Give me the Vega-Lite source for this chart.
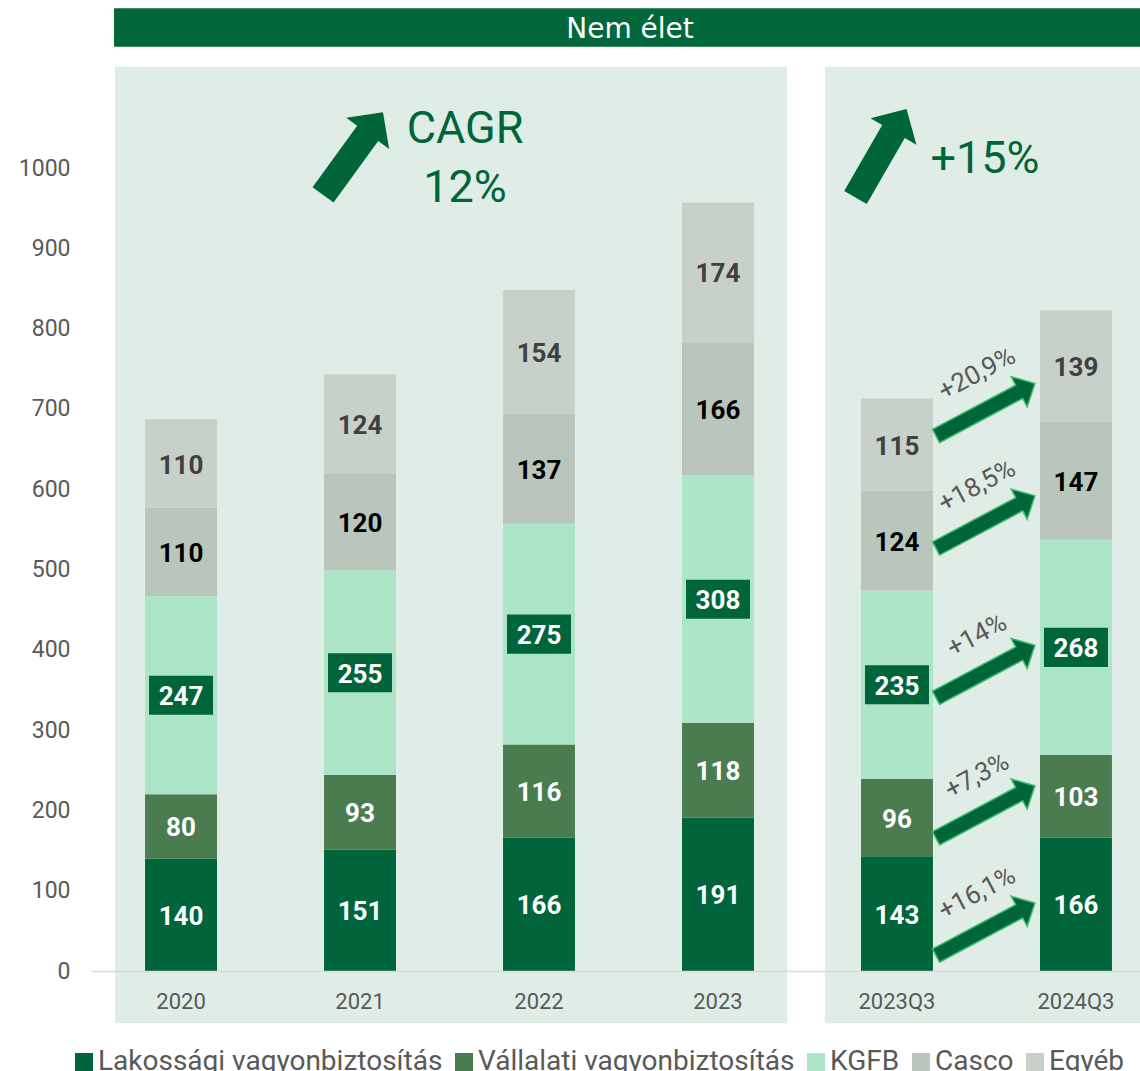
{
  "$schema": "https://vega.github.io/schema/vega-lite/v6.json",
  "width": 1049,
  "height": 803,
  "autosize": {"type": "none"},
  "padding": {"left": 91, "top": 168, "right": 0, "bottom": 100},
  "background": "#ffffff",
  "config": {"view": {"stroke": null}, "font": "Roboto"},
  "datasets": {
    "premium": [
      {"period": "2020", "category": "Lakossági vagyonbiztosítás", "value": 140},
      {"period": "2020", "category": "Vállalati vagyonbiztosítás", "value": 80},
      {"period": "2020", "category": "KGFB", "value": 247},
      {"period": "2020", "category": "Casco", "value": 110},
      {"period": "2020", "category": "Egyéb", "value": 110},
      {"period": "2021", "category": "Lakossági vagyonbiztosítás", "value": 151},
      {"period": "2021", "category": "Vállalati vagyonbiztosítás", "value": 93},
      {"period": "2021", "category": "KGFB", "value": 255},
      {"period": "2021", "category": "Casco", "value": 120},
      {"period": "2021", "category": "Egyéb", "value": 124},
      {"period": "2022", "category": "Lakossági vagyonbiztosítás", "value": 166},
      {"period": "2022", "category": "Vállalati vagyonbiztosítás", "value": 116},
      {"period": "2022", "category": "KGFB", "value": 275},
      {"period": "2022", "category": "Casco", "value": 137},
      {"period": "2022", "category": "Egyéb", "value": 154},
      {"period": "2023", "category": "Lakossági vagyonbiztosítás", "value": 191},
      {"period": "2023", "category": "Vállalati vagyonbiztosítás", "value": 118},
      {"period": "2023", "category": "KGFB", "value": 308},
      {"period": "2023", "category": "Casco", "value": 166},
      {"period": "2023", "category": "Egyéb", "value": 174},
      {"period": "2023Q3", "category": "Lakossági vagyonbiztosítás", "value": 143},
      {"period": "2023Q3", "category": "Vállalati vagyonbiztosítás", "value": 96},
      {"period": "2023Q3", "category": "KGFB", "value": 235},
      {"period": "2023Q3", "category": "Casco", "value": 124},
      {"period": "2023Q3", "category": "Egyéb", "value": 115},
      {"period": "2024Q3", "category": "Lakossági vagyonbiztosítás", "value": 166},
      {"period": "2024Q3", "category": "Vállalati vagyonbiztosítás", "value": 103},
      {"period": "2024Q3", "category": "KGFB", "value": 268},
      {"period": "2024Q3", "category": "Casco", "value": 147},
      {"period": "2024Q3", "category": "Egyéb", "value": 139}
    ],
    "growth": [
      {"period": "2023Q3", "pct": "+16,1%", "v": 52},
      {"period": "2023Q3", "pct": "+7,3%", "v": 198},
      {"period": "2023Q3", "pct": "+14%", "v": 373},
      {"period": "2023Q3", "pct": "+18,5%", "v": 559},
      {"period": "2023Q3", "pct": "+20,9%", "v": 699}
    ]
  },
  "layer": [
    {
      "data": {"values": [{}]},
      "mark": {"type": "rect", "fill": "#e0ede6", "xOffset": -66, "x2Offset": 69},
      "encoding": {
        "x": {"datum": "2020", "type": "nominal", "bandPosition": 0.5},
        "x2": {"datum": "2023", "bandPosition": 0.5},
        "y": {"datum": 1126, "type": "quantitative"},
        "y2": {"datum": -65}
      }
    },
    {
      "data": {"values": [{}]},
      "mark": {"type": "rect", "fill": "#e0ede6", "xOffset": -72, "x2Offset": 80},
      "encoding": {
        "x": {"datum": "2023Q3", "type": "nominal", "bandPosition": 0.5},
        "x2": {"datum": "2024Q3", "bandPosition": 0.5},
        "y": {"datum": 1126, "type": "quantitative"},
        "y2": {"datum": -65}
      }
    },
    {
      "data": {"values": [{}]},
      "mark": {"type": "rect", "fill": "#02673a", "xOffset": -67, "x2Offset": 80},
      "encoding": {
        "x": {"datum": "2020", "type": "nominal", "bandPosition": 0.5},
        "x2": {"datum": "2024Q3", "bandPosition": 0.5},
        "y": {"datum": 1199, "type": "quantitative"},
        "y2": {"datum": 1151}
      }
    },
    {
      "data": {"values": [{}]},
      "mark": {"type": "text", "text": "Nem élet", "font": "DejaVu Sans", "fontSize": 28, "color": "#ffffff", "align": "center", "baseline": "middle", "xOffset": 91},
      "encoding": {
        "x": {"datum": "2022", "type": "nominal"},
        "y": {"datum": 1171.5, "type": "quantitative"}
      }
    },
    {
      "data": {"name": "premium"},
      "transform": [{"calculate": "indexof(['Lakossági vagyonbiztosítás','Vállalati vagyonbiztosítás','KGFB','Casco','Egyéb'], datum.category)", "as": "stackOrder"}],
      "mark": {"type": "bar"},
      "encoding": {
        "x": {
          "field": "period", "type": "nominal",
          "scale": {"type": "band", "domain": ["2020", "2021", "2022", "2023", "2023Q3", "2024Q3"], "range": [0, 1075], "paddingInner": 0.598, "paddingOuter": 0.302},
          "axis": {"title": null, "domain": true, "domainColor": "#d9d9d9", "domainWidth": 1.5, "ticks": false, "labelPadding": 20, "labelFont": "Roboto", "labelFontSize": 22, "labelColor": "#595959", "labelAngle": 0, "labelAlign": "center", "labelBaseline": "top", "labelFlush": false, "zindex": 1}
        },
        "y": {
          "field": "value", "type": "quantitative", "stack": "zero",
          "scale": {"domain": [0, 1000], "nice": false, "zero": true},
          "axis": {"title": null, "values": [0, 100, 200, 300, 400, 500, 600, 700, 800, 900, 1000], "format": "d", "domain": false, "ticks": false, "grid": false, "labelPadding": 21, "labelFont": "Roboto", "labelFontSize": 23, "labelColor": "#595959"}
        },
        "color": {
          "field": "category", "type": "nominal",
          "scale": {"domain": ["Lakossági vagyonbiztosítás", "Vállalati vagyonbiztosítás", "KGFB", "Casco", "Egyéb"], "range": ["#00653a", "#4b7c50", "#ade5c9", "#bac5bb", "#c8d1c9"]},
          "legend": {"title": null, "orient": "none", "legendX": -21, "legendY": 880, "direction": "horizontal", "columns": 5, "symbolType": "square", "symbolSize": 324, "symbolStrokeWidth": 0, "labelFont": "Roboto", "labelFontSize": 28, "labelColor": "#595959", "labelOffset": 0, "columnPadding": 7, "labelLimit": 0, "padding": 0}
        },
        "order": {"field": "stackOrder", "type": "quantitative", "sort": "ascending"}
      }
    },
    {
      "data": {"name": "premium"},
      "transform": [{"calculate": "indexof(['Lakossági vagyonbiztosítás','Vállalati vagyonbiztosítás','KGFB','Casco','Egyéb'], datum.category)", "as": "stackOrder"}],
      "mark": {"type": "point", "shape": "M -1 -0.61 L 1 -0.61 L 1 0.61 L -1 0.61 Z", "size": 4096, "filled": true, "opacity": 1, "strokeWidth": 0},
      "encoding": {
        "x": {"field": "period", "type": "nominal"},
        "y": {"field": "value", "type": "quantitative", "stack": "zero", "bandPosition": 0.5},
        "color": {
          "field": "category", "type": "nominal",
          "scale": {"domain": ["Lakossági vagyonbiztosítás", "Vállalati vagyonbiztosítás", "KGFB", "Casco", "Egyéb"], "range": ["transparent", "transparent", "#00653a", "transparent", "transparent"]},
          "legend": null
        },
        "order": {"field": "stackOrder", "type": "quantitative", "sort": "ascending"}
      }
    },
    {
      "data": {"name": "premium"},
      "transform": [{"calculate": "indexof(['Lakossági vagyonbiztosítás','Vállalati vagyonbiztosítás','KGFB','Casco','Egyéb'], datum.category)", "as": "stackOrder"}],
      "mark": {"type": "text", "font": "Roboto", "fontWeight": "bold", "fontSize": 26, "align": "center", "baseline": "middle", "yOffset": 2},
      "encoding": {
        "x": {"field": "period", "type": "nominal"},
        "y": {"field": "value", "type": "quantitative", "stack": "zero", "bandPosition": 0.5},
        "text": {"field": "value", "type": "quantitative"},
        "color": {
          "field": "category", "type": "nominal",
          "scale": {"domain": ["Lakossági vagyonbiztosítás", "Vállalati vagyonbiztosítás", "KGFB", "Casco", "Egyéb"], "range": ["#ffffff", "#ffffff", "#ffffff", "#000000", "#404040"]},
          "legend": null
        },
        "order": {"field": "stackOrder", "type": "quantitative", "sort": "ascending"}
      }
    },
    {
      "data": {"values": [{}]},
      "mark": {"type": "point", "shape": "M -0.255 1 L -0.255 -0.49 L -0.52 -0.49 L 0 -1 L 0.52 -0.49 L 0.255 -0.49 L 0.255 1 Z", "size": 10404, "angle": 36, "filled": true, "color": "#00663a", "opacity": 1, "strokeWidth": 0, "xOffset": -7},
      "encoding": {
        "x": {"datum": "2021", "type": "nominal"},
        "y": {"datum": 1018, "type": "quantitative"}
      }
    },
    {
      "data": {"values": [{}]},
      "mark": {"type": "point", "shape": "M -0.255 1 L -0.255 -0.49 L -0.52 -0.49 L 0 -1 L 0.52 -0.49 L 0.255 -0.49 L 0.255 1 Z", "size": 10404, "angle": 30, "filled": true, "color": "#00663a", "opacity": 1, "strokeWidth": 0, "xOffset": -16},
      "encoding": {
        "x": {"datum": "2023Q3", "type": "nominal"},
        "y": {"datum": 1018.4, "type": "quantitative"}
      }
    },
    {
      "data": {"values": [{}]},
      "mark": {"type": "text", "text": ["CAGR", "12%"], "lineHeight": 59, "font": "Roboto", "fontSize": 45, "color": "#00663a", "align": "center", "baseline": "alphabetic", "xOffset": 105},
      "encoding": {
        "x": {"datum": "2021", "type": "nominal"},
        "y": {"datum": 1031, "type": "quantitative"}
      }
    },
    {
      "data": {"values": [{}]},
      "mark": {"type": "text", "text": "+15%", "font": "Roboto", "fontSize": 45, "color": "#00663a", "align": "center", "baseline": "alphabetic", "xOffset": -91},
      "encoding": {
        "x": {"datum": "2024Q3", "type": "nominal"},
        "y": {"datum": 993.8, "type": "quantitative"}
      }
    },
    {
      "data": {"name": "growth"},
      "mark": {"type": "point", "shape": "M -0.134 1 L -0.134 -0.682 L -0.304 -0.682 L 0 -1 L 0.304 -0.682 L 0.134 -0.682 L 0.134 1 Z", "size": 12544, "angle": 62, "filled": true, "fill": "#00663a", "stroke": "#3dbb6e", "strokeWidth": 1.5, "opacity": 1, "xOffset": 88.5},
      "encoding": {
        "x": {"field": "period", "type": "nominal"},
        "y": {"field": "v", "type": "quantitative"}
      }
    },
    {
      "data": {"name": "growth"},
      "mark": {"type": "text", "font": "Roboto", "fontSize": 26, "color": "#595959", "angle": -28, "align": "center", "baseline": "middle", "xOffset": 80, "yOffset": -36},
      "encoding": {
        "x": {"field": "period", "type": "nominal"},
        "y": {"field": "v", "type": "quantitative"},
        "text": {"field": "pct", "type": "nominal"}
      }
    }
  ],
  "resolve": {"scale": {"color": "independent"}}
}
